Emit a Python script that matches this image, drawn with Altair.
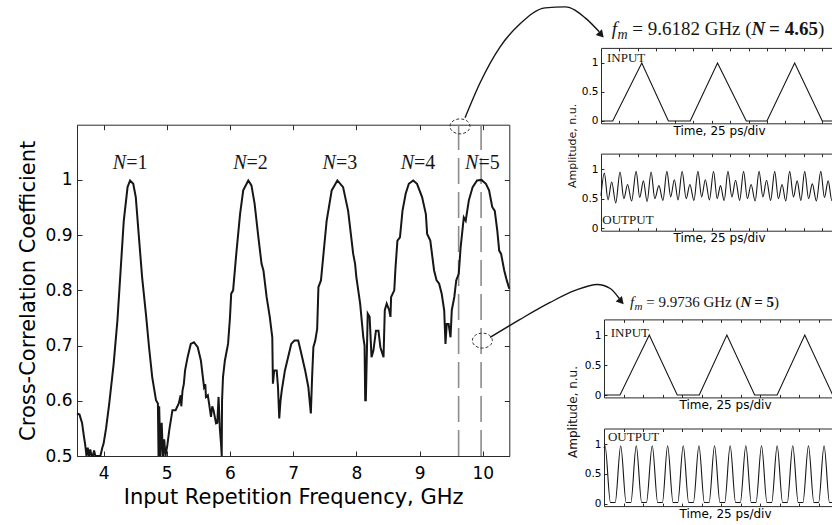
import altair as alt
import pandas as pd

W, H = 832, 525
SANS = "DejaVu Sans"
SERIF = "Liberation Serif"
INK = "#161616"
FRAME = "#2a2a2a"

# ---------------- main curve (frequency GHz, cross-correlation) ----------------
fA = [3.58, 3.62, 3.66, 3.69, 3.71, 3.72, 3.73, 3.75, 3.77, 3.79, 3.81, 3.83, 3.85, 3.87, 3.91, 3.95, 3.98, 4.00, 4.04, 4.09, 4.16, 4.22, 4.27, 4.32, 4.38, 4.42]
cA = [0.577, 0.575, 0.560, 0.535, 0.520, 0.510, 0.500, 0.515, 0.500, 0.512, 0.500, 0.500, 0.510, 0.500, 0.500, 0.500, 0.515, 0.522, 0.550, 0.595, 0.667, 0.746, 0.836, 0.926, 0.987, 0.999]
fB = [4.47, 4.51, 4.56, 4.61, 4.67, 4.72, 4.77, 4.83, 4.86, 4.87, 4.88, 4.90, 4.92, 4.94, 4.96, 4.98, 5.01, 5.04, 5.09, 5.14, 5.19, 5.22, 5.23, 5.25, 5.27, 5.29, 5.33, 5.38, 5.43]
cB = [0.993, 0.969, 0.896, 0.824, 0.758, 0.697, 0.643, 0.601, 0.595, 0.500, 0.590, 0.500, 0.560, 0.500, 0.530, 0.500, 0.520, 0.547, 0.583, 0.583, 0.595, 0.610, 0.590, 0.619, 0.630, 0.655, 0.679, 0.703, 0.706]
fC = [5.49, 5.54, 5.59, 5.61, 5.62, 5.65, 5.67, 5.70, 5.72, 5.74, 5.78, 5.80, 5.82, 5.84, 5.86, 5.87, 5.875, 5.89, 5.92, 5.97, 6.00, 6.02, 6.05, 6.10, 6.16, 6.21, 6.29]
cC = [0.697, 0.673, 0.625, 0.630, 0.607, 0.610, 0.595, 0.571, 0.590, 0.583, 0.559, 0.560, 0.607, 0.550, 0.520, 0.500, 0.600, 0.643, 0.673, 0.703, 0.750, 0.794, 0.800, 0.866, 0.938, 0.981, 0.999]
fD = [6.34, 6.39, 6.45, 6.50, 6.53, 6.58, 6.63, 6.67, 6.68, 6.70, 6.74, 6.76, 6.78, 6.80, 6.82, 6.87, 6.92, 6.97, 7.02, 7.08, 7.13, 7.19, 7.24, 7.28, 7.30, 7.32, 7.35, 7.38, 7.40, 7.44, 7.48, 7.53, 7.61, 7.70]
cD = [0.990, 0.957, 0.896, 0.848, 0.836, 0.788, 0.752, 0.715, 0.631, 0.655, 0.655, 0.625, 0.568, 0.600, 0.619, 0.655, 0.679, 0.703, 0.709, 0.709, 0.685, 0.655, 0.625, 0.577, 0.643, 0.697, 0.709, 0.730, 0.806, 0.818, 0.866, 0.926, 0.981, 0.999]
fE = [7.79, 7.87, 7.95, 7.98, 8.00, 8.06, 8.11, 8.13, 8.14, 8.15, 8.18, 8.21, 8.24, 8.27, 8.31, 8.35, 8.38, 8.43, 8.45, 8.48, 8.52, 8.54, 8.55, 8.60, 8.62, 8.65, 8.69, 8.73, 8.78, 8.83, 8.90]
cE = [0.987, 0.944, 0.866, 0.848, 0.824, 0.776, 0.715, 0.700, 0.601, 0.601, 0.758, 0.752, 0.679, 0.691, 0.727, 0.727, 0.697, 0.679, 0.764, 0.776, 0.764, 0.752, 0.788, 0.800, 0.842, 0.890, 0.896, 0.944, 0.975, 0.993, 0.999]
fF = [8.96, 9.04, 9.10, 9.12, 9.17, 9.23, 9.27, 9.31, 9.35, 9.39, 9.41, 9.43, 9.46, 9.49, 9.51, 9.55, 9.58, 9.62, 9.65, 9.70, 9.73, 9.78, 9.84, 9.91, 9.98, 10.05, 10.10, 10.15, 10.19, 10.23, 10.26, 10.29, 10.34, 10.38, 10.42]
cF = [0.993, 0.969, 0.938, 0.902, 0.890, 0.836, 0.818, 0.812, 0.794, 0.764, 0.703, 0.739, 0.739, 0.715, 0.764, 0.788, 0.818, 0.830, 0.878, 0.932, 0.926, 0.963, 0.987, 0.999, 1.000, 0.993, 0.981, 0.951, 0.944, 0.908, 0.872, 0.866, 0.836, 0.818, 0.803]

freq = fA + fB + fC + fD + fE + fF
coef = cA + cB + cC + cD + cE + cF
assert len(freq) == len(coef)

# N labels, operating points, markers, arrows (main-plot data units)
peak_f = [4.358, 6.262, 7.677, 8.912, 9.931]
peak_txt = ["=1", "=2", "=3", "=4", "=5"]
fm_lines = [9.6182, 9.9736]
circ_f = [9.640, 9.994]
circ_c = [1.097, 0.709]
arr1_f = [9.720, 9.958, 10.275, 10.591, 10.987, 11.304, 11.621, 11.843]
arr1_c = [1.1126, 1.1760, 1.2411, 1.2827, 1.3116, 1.3134, 1.2935, 1.2682]
arr2_f = [10.116, 10.591, 11.066, 11.462, 11.811, 12.017, 12.160]
arr2_c = [0.7148, 0.7474, 0.7781, 0.7998, 0.8107, 0.8034, 0.7853]
head_f = [11.875, 12.191]
head_c = [1.2628, 0.7799]

# ---------------- inset waveforms (time ps, amplitude n.u.) ----------------
ui_t = [0, 15.9, 55.3, 91.4, 121, 158, 197, 225, 262.6, 300, 320]
ui_a = [0, 0, 1, 0, 0, 1, 0, 0, 1, 0, 0]
uo_t = [0, 4.5, 9.5, 14.5, 20, 25.8, 31, 36, 41.5, 47.6, 52.5, 57.5, 62.5, 67.9, 73, 78.5, 84,
        89.3, 94.5, 99.5, 104.5, 110, 115.5, 120.5, 126, 131.4, 136.5, 141.5, 147, 152.6, 157.5,
        162, 167, 172.1, 177.5, 182.5, 188, 193.3, 198.5, 203.5, 209, 214.3, 219.5, 224.5, 230,
        235.5, 240.5, 245.5, 250.5, 255.8, 261, 266, 271, 276.2, 281.5, 286.5, 292, 298, 303, 308,
        313, 318.6, 320]
uo_a = [0.55, 0.93, 0.48, 0.78, 0.43, 0.95, 0.50, 0.74, 0.46, 0.96, 0.52, 0.80, 0.45, 0.95, 0.50,
        0.72, 0.47, 0.96, 0.53, 0.82, 0.48, 0.96, 0.50, 0.74, 0.47, 0.96, 0.53, 0.82, 0.48, 0.96,
        0.50, 0.72, 0.47, 0.96, 0.53, 0.81, 0.47, 0.96, 0.50, 0.74, 0.46, 0.96, 0.53, 0.81, 0.47,
        0.96, 0.50, 0.74, 0.46, 0.96, 0.53, 0.80, 0.47, 0.96, 0.50, 0.75, 0.46, 0.96, 0.52, 0.80,
        0.47, 0.96, 0.93]
li_t = [0, 20.5, 58, 93.8, 122, 157.4, 193, 221.8, 257.2, 293, 310]
li_a = [0, 0, 1, 0, 0, 1, 0, 0, 1, 0, 0]
lo_t = [0, 1.3, 8.3, 14.3, 21.4, 28.4, 34.4, 41.3, 48.3, 54.3, 61.8, 68.8, 74.8, 81.5, 88.5, 94.5,
        101.5, 108.5, 114.5, 121.6, 128.6, 134.6, 141.6, 148.6, 154.6, 161.6, 168.6, 174.6, 181.7,
        188.7, 194.7, 201.8, 208.8, 214.8, 221.8, 228.8, 234.8, 241.8, 248.8, 254.8, 261.9, 268.9,
        274.9, 281.9, 288.9, 294.9, 302.0, 309.0]
lo_a = [0.93, 0.97, 0.02, 0.02, 0.97, 0.02, 0.02, 0.97, 0.02, 0.02, 0.97, 0.02, 0.02, 0.97, 0.02,
        0.02, 0.97, 0.02, 0.02, 0.97, 0.02, 0.02, 0.97, 0.02, 0.02, 0.97, 0.02, 0.02, 0.97, 0.02,
        0.02, 0.97, 0.02, 0.02, 0.97, 0.02, 0.02, 0.97, 0.02, 0.02, 0.97, 0.02, 0.02, 0.97, 0.02,
        0.02, 0.97, 0.02]
assert len(uo_t) == len(uo_a) and len(lo_t) == len(lo_a)

main_xticks = [4, 5, 6, 7, 8, 9, 10]
main_yticks = [0.5, 0.6, 0.7, 0.8, 0.9, 1.0]
inset_yticks = [0, 0.5, 1]
up_xticks = [25, 50, 75, 100, 125, 150, 175, 200, 225, 250, 275, 300]
lo_xticks = [25, 50, 75, 100, 125, 150, 175, 200, 225, 250, 275, 300]

one = pd.DataFrame({"k": [0]})


def frame_layers(df, xf, yf, xs, ys, box, xticks, yticks, tick, xlab, ylab, line_kw):
    left, right, top, bottom = box
    fk = dict(domain=True, domainColor=FRAME, domainWidth=1, ticks=True, tickSize=tick,
              tickColor=FRAME, tickWidth=1, labels=False, title=None, grid=False)
    base = alt.Chart(df)
    data_layer = base.mark_line(**line_kw).encode(
        x=alt.X(f"{xf}:Q", scale=xs, axis=alt.Axis(orient="bottom", offset=bottom - H, values=xticks, grid=False, **xlab)),
        y=alt.Y(f"{yf}:Q", scale=ys, axis=alt.Axis(orient="left", offset=-left, values=yticks, grid=False, **ylab)),
    )
    near = base.mark_line(strokeOpacity=0).encode(
        x=alt.X(f"{xf}:Q", scale=xs, axis=alt.Axis(orient="top", offset=-bottom, values=xticks, **fk)),
        y=alt.Y(f"{yf}:Q", scale=ys, axis=alt.Axis(orient="right", offset=left - W, values=yticks, **fk)),
    )
    far = base.mark_line(strokeOpacity=0).encode(
        x=alt.X(f"{xf}:Q", scale=xs, axis=alt.Axis(orient="bottom", offset=top - H, values=xticks, **fk)),
        y=alt.Y(f"{yf}:Q", scale=ys, axis=alt.Axis(orient="left", offset=-right, values=yticks, **fk)),
    )
    return [near, far, data_layer]


def txt(xs, ys, x, y, text, **kw):
    style = dict(color=INK, align="left", baseline="alphabetic")
    style.update(kw)
    return alt.Chart(one).mark_text(text=text, **style).encode(
        x=alt.XDatum(x, type="quantitative", scale=xs, axis=None),
        y=alt.YDatum(y, type="quantitative", scale=ys, axis=None),
    )


# ---------------- main panel ----------------
MBOX = (77, 509.3, 124.7, 456)
mxs = alt.Scale(domain=[3.58, 10.42], range=[MBOX[0], MBOX[1]], zero=False, nice=False)
mys = alt.Scale(domain=[0.5, 1.1], range=[MBOX[3], MBOX[2]], zero=False, nice=False)
main_df = pd.DataFrame({"f": freq, "c": coef})
mxlab = dict(domain=False, ticks=False, tickSize=0, labels=True, format="d", labelFont=SANS,
             labelFontSize=17, labelColor="black", labelPadding=9, labelFlush=False,
             title="Input Repetition Frequency, GHz", titleFont=SANS, titleFontSize=21,
             titleFontWeight="normal", titleColor="black", titlePadding=5)
mylab = dict(domain=False, ticks=False, tickSize=0, labels=True, format="~g", labelFont=SANS,
             labelFontSize=17, labelColor="black", labelPadding=5,
             title="Cross-Correlation Coefficient", titleFont=SANS, titleFontSize=21,
             titleFontWeight="normal", titleColor="black", titlePadding=6)
main_layers = frame_layers(main_df, "f", "c", mxs, mys, MBOX, main_xticks, main_yticks, 5,
                           mxlab, mylab, dict(color=INK, strokeWidth=2))

rules = alt.Chart(pd.DataFrame({"f": fm_lines})).mark_rule(
    color="#8c8c8c", strokeWidth=1.6, strokeDash=[26, 8]).encode(
    x=alt.X("f:Q", scale=mxs, axis=None),
    y=alt.YDatum(0.5, type="quantitative", scale=mys, axis=None),
    y2=alt.Y2Datum(1.1),
)
ELLIPSE = "M-1,0A1,0.75,0,1,1,1,0A1,0.75,0,1,1,-1,0Z"
circles = alt.Chart(pd.DataFrame({"f": circ_f, "c": circ_c})).mark_point(
    shape=ELLIPSE, size=400, filled=False, color="#333333", strokeWidth=1, strokeDash=[3, 2], opacity=1).encode(
    x=alt.X("f:Q", scale=mxs, axis=None), y=alt.Y("c:Q", scale=mys, axis=None))
arrow1 = alt.Chart(pd.DataFrame({"f": arr1_f, "c": arr1_c, "i": list(range(len(arr1_f)))})).mark_line(
    color=INK, strokeWidth=1.4, interpolate="monotone").encode(
    x=alt.X("f:Q", scale=mxs, axis=None), y=alt.Y("c:Q", scale=mys, axis=None), order="i:Q")
arrow2 = alt.Chart(pd.DataFrame({"f": arr2_f, "c": arr2_c, "i": list(range(len(arr2_f)))})).mark_line(
    color=INK, strokeWidth=1.4, interpolate="monotone").encode(
    x=alt.X("f:Q", scale=mxs, axis=None), y=alt.Y("c:Q", scale=mys, axis=None), order="i:Q")
heads = alt.Chart(pd.DataFrame({"f": head_f, "c": head_c})).mark_point(
    shape="triangle-right", size=70, filled=True, color=INK, opacity=1, angle=48).encode(
    x=alt.X("f:Q", scale=mxs, axis=None), y=alt.Y("c:Q", scale=mys, axis=None))
nlab_df = pd.DataFrame({"f": peak_f, "t": peak_txt})
n_ital = alt.Chart(nlab_df).mark_text(text="N", font=SERIF, fontSize=20, fontStyle="italic",
                                      align="right", baseline="alphabetic", color=INK).encode(
    x=alt.X("f:Q", scale=mxs, axis=None), y=alt.YDatum(1.02, type="quantitative", scale=mys, axis=None))
n_rest = alt.Chart(nlab_df).mark_text(font=SERIF, fontSize=20, align="left",
                                      baseline="alphabetic", color=INK).encode(
    x=alt.X("f:Q", scale=mxs, axis=None), y=alt.YDatum(1.02, type="quantitative", scale=mys, axis=None),
    text="t:N")

main_panel = alt.layer(rules, *main_layers, circles, arrow1, arrow2, heads, n_ital, n_rest).resolve_axis(
    x="independent", y="independent")

# ---------------- insets ----------------
YDOM = [-0.04, 1.26]
ixlab = dict(domain=False, ticks=False, tickSize=0, labels=False, title="Time, 25 ps/div",
             titleFont=SANS, titleFontSize=12, titleFontWeight="normal", titleColor="black", titlePadding=2)
iylab = dict(domain=False, ticks=False, tickSize=0, labels=True, format="~g", labelFont=SANS,
             labelFontSize=10.5, labelColor="black", labelPadding=3, title=None)
iline = dict(color=INK, strokeWidth=1.1)


def inset(df, xf, yf, box, xdom, xticks, interp, extra_fn):
    left, right, top, bottom = box
    xs = alt.Scale(domain=xdom, range=[left, right], zero=False, nice=False)
    ys = alt.Scale(domain=YDOM, range=[bottom, top], zero=False, nice=False)
    kw = dict(iline)
    kw["interpolate"] = interp
    layers = frame_layers(df, xf, yf, xs, ys, box, xticks, inset_yticks, 3, ixlab, iylab, kw)
    layers += extra_fn(xs, ys)
    return alt.layer(*layers).resolve_axis(x="independent", y="independent")


def ui_extra(xs, ys):
    t0, a0 = 14.5, 1.483
    fs = 19
    return [
        txt(xs, ys, 8.1, 1.017, "INPUT", font=SERIF, fontSize=13),
        txt(xs, ys, t0, a0, "f", font=SERIF, fontSize=fs, fontStyle="italic"),
        txt(xs, ys, t0, a0, "m", font=SERIF, fontSize=14, fontStyle="italic", dx=5.8, dy=4),
        txt(xs, ys, t0, a0, "= 9.6182 GHz (", font=SERIF, fontSize=fs, dx=20.5),
        txt(xs, ys, t0, a0, "N", font=SERIF, fontSize=fs, fontStyle="italic", fontWeight="bold", dx=139.9),
        txt(xs, ys, t0, a0, "= 4.65", font=SERIF, fontSize=fs, fontWeight="bold", dx=157.4),
        txt(xs, ys, t0, a0, ")", font=SERIF, fontSize=fs, dx=206.2),
        txt(xs, ys, -38, -0.43, "Amplitude, n.u.", font=SANS, fontSize=11, angle=270,
            align="center", baseline="middle"),
    ]


def uo_extra(xs, ys):
    return [txt(xs, ys, 1.8, 0.07, "OUTPUT", font=SERIF, fontSize=13)]


def li_extra(xs, ys):
    t0, a0 = 33.3, 1.467
    fs = 15
    return [
        txt(xs, ys, 8.6, 0.96, "INPUT", font=SERIF, fontSize=13),
        txt(xs, ys, t0, a0, "f", font=SERIF, fontSize=fs, fontStyle="italic"),
        txt(xs, ys, t0, a0, "m", font=SERIF, fontSize=11, fontStyle="italic", dx=4.6, dy=3),
        txt(xs, ys, t0, a0, "= 9.9736 GHz (", font=SERIF, fontSize=fs, dx=16.25),
        txt(xs, ys, t0, a0, "N", font=SERIF, fontSize=fs, fontStyle="italic", fontWeight="bold", dx=110.5),
        txt(xs, ys, t0, a0, "= 5", font=SERIF, fontSize=fs, fontWeight="bold", dx=124.3),
        txt(xs, ys, t0, a0, ")", font=SERIF, fontSize=fs, dx=144.1),
        txt(xs, ys, -39.7, -0.283, "Amplitude, n.u.", font=SANS, fontSize=12, angle=270,
            align="center", baseline="middle"),
    ]


def lo_extra(xs, ys):
    return [txt(xs, ys, 5.1, 1.055, "OUTPUT", font=SERIF, fontSize=13)]


up_in = inset(pd.DataFrame({"t1": ui_t, "a1": ui_a}), "t1", "a1", (601, 837, 47.9, 123.3),
              [0, 320], up_xticks, "linear", ui_extra)
up_out = inset(pd.DataFrame({"t2": uo_t, "a2": uo_a}), "t2", "a2", (601, 837, 153.6, 230.7),
               [0, 320], up_xticks, "monotone", uo_extra)
lo_in = inset(pd.DataFrame({"t3": li_t, "a3": li_a}), "t3", "a3", (604, 846, 319.4, 397.4),
              [0, 310], lo_xticks, "linear", li_extra)
lo_out = inset(pd.DataFrame({"t4": lo_t, "a4": lo_a}), "t4", "a4", (604, 846, 428.5, 506.1),
               [0, 310], lo_xticks, "monotone", lo_extra)

chart = alt.layer(main_panel, up_in, up_out, lo_in, lo_out).resolve_scale(
    x="independent", y="independent").properties(
    width=W, height=H, padding=0, autosize=alt.AutoSizeParams(type="none"), background="white"
).configure_view(stroke=None)

chart.save("out.html", embed_options={"renderer": "svg", "actions": False})
